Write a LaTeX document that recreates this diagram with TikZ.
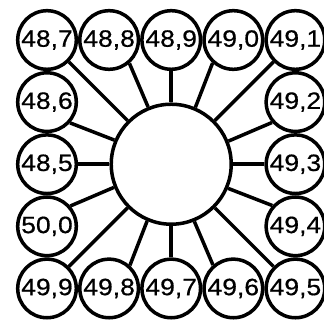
\documentclass[tikz,border=0pt]{standalone}
\usepackage{fontspec}
\setmainfont{Liberation Sans}
\newfontfamily\numfont[FakeStretch=1.12,FakeBold=0.6]{Liberation Sans}
\usetikzlibrary{positioning}

\begin{document}
\begin{tikzpicture}[
    node distance=0pt,
    every node/.style={font=\numfont\fontsize{16.8pt}{16.8pt}\selectfont},
    cell/.style={circle, draw, line width=2.5pt, minimum size=1.465cm,
                 inner sep=0pt, fill=white, text=black},
    hub/.style={circle, draw, line width=2.5pt, minimum size=3cm,
                inner sep=0pt, fill=white},
    spoke/.style={line width=2.5pt},
]

\useasboundingbox[fill=white] (-1.175,1.0) rectangle (6.925,-7.0);

% Top row
\node[cell] (c487) at (0,0) {48,7};
\node[cell, right=of c487] (c488) {48,8};
\node[cell, right=of c488] (c489) {48,9};
\node[cell, right=of c489] (c490) {49,0};
\node[cell, right=of c490] (c491) {49,1};

% Left column
\node[cell, below=of c487] (c486) {48,6};
\node[cell, below=of c486] (c485) {48,5};
\node[cell, below=of c485] (c500) {50,0};
\node[cell, below=of c500] (c499) {49,9};

% Right column
\node[cell, below=of c491] (c492) {49,2};
\node[cell, below=of c492] (c493) {49,3};
\node[cell, below=of c493] (c494) {49,4};
\node[cell, below=of c494] (c495) {49,5};

% Bottom row
\node[cell, right=of c499] (c498) {49,8};
\node[cell, right=of c498] (c497) {49,7};
\node[cell, right=of c497] (c496) {49,6};

% Centre
\node[hub] (hub) at (c489 |- c485) {};

% Spokes
\foreach \a/\n/\b in {0/c493/180, 22.5/c492/221.6, 45/c491/225, 67.5/c490/228.4,
    90/c489/270, 112.5/c488/311.6, 135/c487/315, 157.5/c486/318.4,
    180/c485/0, 202.5/c500/41.6, 225/c499/45, 247.5/c498/48.4,
    270/c497/90, 292.5/c496/131.6, 315/c495/135, 337.5/c494/138.4}
  \draw[spoke] (hub.\a) -- (\n.\b);

\end{tikzpicture}
\end{document}
